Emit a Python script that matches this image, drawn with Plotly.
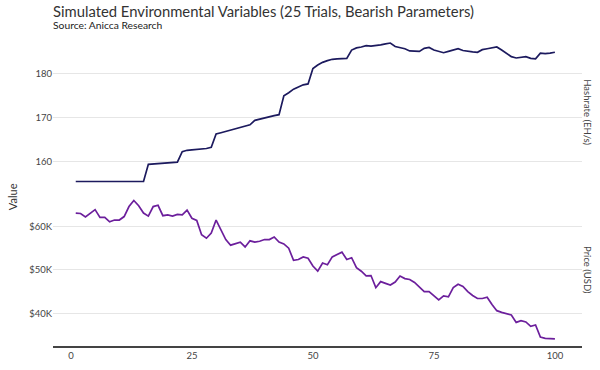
import plotly.graph_objects as go

t = list(range(1, 101))

hashrate = [155.4]*15 + [
    159.3, 159.4, 159.5, 159.6, 159.6, 159.7, 159.8,
    162.2, 162.5, 162.6, 162.7, 162.8, 162.9, 163.2,
    166.2, 166.5, 166.8, 167.1, 167.4, 167.7, 168.0, 168.3,
    169.3, 169.6, 169.9, 170.2, 170.4, 170.6,
    174.9, 175.6, 176.4, 176.9, 177.4, 177.6,
    181.1, 181.9, 182.5, 182.9, 183.2, 183.3, 183.3, 183.4,
    185.3, 185.8, 186.0, 186.3, 186.2, 186.3, 186.5, 186.7, 186.9,
    186.1, 185.9, 185.6, 185.1, 185.0, 185.0, 185.7, 185.9, 185.3,
    185.0, 184.7, 185.0, 185.3, 185.6, 185.2, 185.0, 184.9, 184.8,
    185.4, 185.6, 185.8, 186.0, 185.3, 184.6, 183.8, 183.5, 183.6,
    183.8, 183.4, 183.3, 184.6, 184.5, 184.6, 184.8,
]

price_k = [
    63.1, 63.0, 62.2, 63.0, 63.9, 62.1, 62.1, 61.1, 61.5, 61.5,
    62.3, 64.6, 66.0, 64.8, 63.1, 62.4, 64.6, 64.9, 62.5, 62.7,
    62.4, 62.8, 62.7, 63.8, 61.9, 61.4, 58.1, 57.3, 58.5, 61.5,
    59.2, 57.0, 55.7, 56.0, 56.4, 55.3, 56.7, 56.4, 56.6, 57.0,
    57.0, 57.6, 56.4, 56.0, 55.0, 52.2, 52.4, 53.0, 52.7, 50.9,
    49.7, 51.6, 51.2, 53.0, 53.6, 54.1, 52.4, 52.8, 50.5, 49.7,
    48.6, 48.7, 45.9, 47.3, 46.9, 46.5, 47.2, 48.6, 48.0, 47.8,
    47.1, 46.0, 45.0, 45.0, 44.0, 43.1, 44.0, 43.8, 45.9, 46.7,
    46.2, 45.0, 44.1, 43.4, 43.4, 43.7, 42.0, 40.6, 40.2, 39.9,
    39.6, 37.9, 38.3, 38.0, 37.0, 37.3, 34.5, 34.2, 34.1, 34.1,
]

x_ticks = [0, 25, 50, 75, 100]
hash_ticks = [160, 170, 180]
price_tickvals = [40, 50, 60]
price_ticktext = ["$40K", "$50K", "$60K"]

FONT = "Lato"
TICK_COLOR = "#444444"
GRID = "#e6e6e6"

fig = go.Figure()
fig.add_trace(go.Scatter(x=t, y=hashrate, mode="lines",
                         line=dict(color="#1c1a5e", width=1.7),
                         xaxis="x", yaxis="y", showlegend=False))
fig.add_trace(go.Scatter(x=t, y=price_k, mode="lines",
                         line=dict(color="#6c1f9c", width=1.7),
                         xaxis="x2", yaxis="y2", showlegend=False))

xcommon = dict(range=[-3.7, 105.6], showgrid=False, zeroline=False,
               tickvals=x_ticks, tickfont=dict(family=FONT, size=9.5, color=TICK_COLOR))

fig.update_layout(
    width=600, height=370,
    margin=dict(l=53, r=18, t=36, b=24, autoexpand=False),
    paper_bgcolor="white", plot_bgcolor="white",
    font=dict(family=FONT, color=TICK_COLOR),
    xaxis=dict(**xcommon, anchor="y", domain=[0, 1], showticklabels=False, matches="x2"),
    xaxis2=dict(**xcommon, anchor="y2", domain=[0, 1], showline=True,
                linecolor="#444444", linewidth=1.5, ticks=""),
    yaxis=dict(domain=[0.508, 1], range=[153.8, 188.5], tickvals=hash_ticks,
               gridcolor=GRID, zeroline=False,
               tickfont=dict(family=FONT, size=9.5, color=TICK_COLOR)),
    yaxis2=dict(domain=[0, 0.491], range=[32.45, 67.55], tickvals=price_tickvals,
                ticktext=price_ticktext, gridcolor=GRID, zeroline=False,
                tickfont=dict(family=FONT, size=9.5, color=TICK_COLOR)),
)

fig.add_annotation(text="Simulated Environmental Variables (25 Trials, Bearish Parameters)",
                   xref="paper", yref="paper", x=0, y=1, xshift=-2, yshift=36,
                   xanchor="left", yanchor="top", showarrow=False,
                   font=dict(family=FONT, size=14.8, color="#333333"))
fig.add_annotation(text="Source: Anicca Research",
                   xref="paper", yref="paper", x=0, y=1, xshift=-2, yshift=19,
                   xanchor="left", yanchor="top", showarrow=False,
                   font=dict(family=FONT, size=10.3, color="#222222"))
fig.add_annotation(text="Value", xref="paper", yref="paper", x=0, y=0.48,
                   xshift=-41, xanchor="center", yanchor="middle", textangle=-90,
                   showarrow=False, font=dict(family=FONT, size=11, color="#333333"))
fig.add_annotation(text="Hashrate (EH/s)", xref="paper", yref="paper", x=1, y=0.754,
                   xshift=6, xanchor="center", yanchor="middle", textangle=90,
                   showarrow=False, font=dict(family=FONT, size=9.5, color=TICK_COLOR))
fig.add_annotation(text="Price (USD)", xref="paper", yref="paper", x=1, y=0.245,
                   xshift=6, xanchor="center", yanchor="middle", textangle=90,
                   showarrow=False, font=dict(family=FONT, size=9.5, color=TICK_COLOR))

fig.write_html("out.html", config={"displayModeBar": False},
               post_script="document.body.style.margin='0';document.body.style.overflow='hidden';")
